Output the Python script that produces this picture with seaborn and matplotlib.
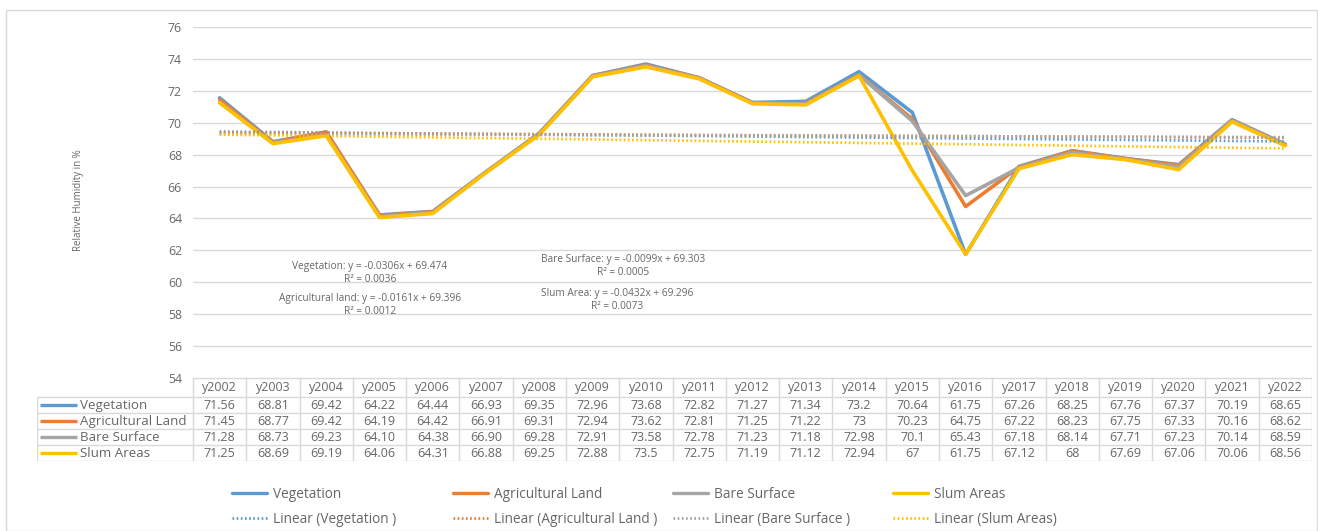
import numpy as np
import pandas as pd
import matplotlib
matplotlib.use("Agg")
import matplotlib.pyplot as plt
from matplotlib.lines import Line2D
from matplotlib.patches import Rectangle
import seaborn as sns

# ---------------- data ----------------
year_labels = ["y2002", "y2003", "y2004", "y2005", "y2006", "y2007", "y2008", "y2009",
               "y2010", "y2011", "y2012", "y2013", "y2014", "y2015", "y2016", "y2017",
               "y2018", "y2019", "y2020", "y2021", "y2022"]
series_names = ["Vegetation", "Agricultural Land", "Bare Surface", "Slum Areas"]
vegetation_txt = ["71.56", "68.81", "69.42", "64.22", "64.44", "66.93", "69.35", "72.96",
                  "73.68", "72.82", "71.27", "71.34", "73.2", "70.64", "61.75", "67.26",
                  "68.25", "67.76", "67.37", "70.19", "68.65"]
agricultural_txt = ["71.45", "68.77", "69.42", "64.19", "64.42", "66.91", "69.31", "72.94",
                    "73.62", "72.81", "71.25", "71.22", "73", "70.23", "64.75", "67.22",
                    "68.23", "67.75", "67.33", "70.16", "68.62"]
bare_txt = ["71.28", "68.73", "69.23", "64.10", "64.38", "66.90", "69.28", "72.91",
            "73.58", "72.78", "71.23", "71.18", "72.98", "70.1", "65.43", "67.18",
            "68.14", "67.71", "67.23", "70.14", "68.59"]
slum_txt = ["71.25", "68.69", "69.19", "64.06", "64.31", "66.88", "69.25", "72.88",
            "73.5", "72.75", "71.19", "71.12", "72.94", "67", "61.75", "67.12",
            "68", "67.69", "67.06", "70.06", "68.56"]
equations = [
    "Vegetation: y = -0.0306x + 69.474\nR² = 0.0036",
    "Agricultural land: y = -0.0161x + 69.396\nR² = 0.0012",
    "Bare Surface: y = -0.0099x + 69.303\nR² = 0.0005",
    "Slum Area: y = -0.0432x + 69.296\nR² = 0.0073",
]
trend_labels = ["Linear (Vegetation )", "Linear (Agricultural Land )",
                "Linear (Bare Surface )", "Linear (Slum Areas)"]

texts = [vegetation_txt, agricultural_txt, bare_txt, slum_txt]
colors = ["#5B9BD5", "#ED7D31", "#A5A5A5", "#FFC000"]
txt_color = "#666666"
grid_color = "#D9D9D9"

rows = []
for name, tx in zip(series_names, texts):
    for i, (yl, v) in enumerate(zip(year_labels, tx)):
        rows.append({"pos": i, "year": yl, "series": name, "value": float(v)})
df = pd.DataFrame(rows)

# ---------------- figure ----------------
sns.set_theme(style="white")
plt.rcParams["font.family"] = ["Open Sans", "DejaVu Sans"]

W, H = 1318, 531
fig = plt.figure(figsize=(W / 100, H / 100), dpi=100)
fig.patch.set_facecolor("white")

def fx(px):
    return px / W

def fy(py):
    return 1 - py / H

# outer frame
fig.patches.append(Rectangle((fx(6), 0.0), fx(1317) - fx(6), fy(10) - 0.0005,
                             transform=fig.transFigure, fill=False,
                             edgecolor=grid_color, linewidth=1.0))

ax_l, ax_r, ax_t, ax_b = 193, 1312, 27, 378
ax = fig.add_axes([fx(ax_l), fy(ax_b), fx(ax_r) - fx(ax_l), fy(ax_t) - fy(ax_b)])

sns.lineplot(data=df, x="pos", y="value", hue="series", hue_order=series_names,
             palette=colors, linewidth=2.6, ax=ax, legend=False, zorder=3)

n = len(year_labels)
xs = np.arange(n)
for name, tx, c in zip(series_names, texts, colors):
    vals = np.array([float(v) for v in tx])
    k, b = np.polyfit(np.arange(1, n + 1), vals, 1)
    ax.plot(xs, k * np.arange(1, n + 1) + b, color=c, linewidth=2.0,
            linestyle=(0, (0.6, 0.9)), zorder=4)

ax.set_xlim(-0.5, n - 0.5)
ax.set_ylim(54, 76)
ax.set_yticks(np.arange(54, 77, 2))
ax.set_xticks([])
ax.set_xlabel("")
ax.set_ylabel("")
ax.yaxis.grid(True, color=grid_color, linewidth=1.0)
ax.tick_params(axis="y", length=0, pad=8, labelsize=8.8, labelcolor=txt_color)
for s in ax.spines.values():
    s.set_visible(False)

# equation annotations
eq_pos = [(2.82, 60.6), (2.82, 58.55), (7.57, 61.05), (7.46, 58.9)]
for (px_, py_), t in zip(eq_pos, equations):
    ax.text(px_, py_, t, ha="center", va="center", fontsize=7.3,
            color=txt_color, multialignment="center", linespacing=1.25, zorder=5)

fig.text(fx(78), fy(200), "Relative Humidity in %", rotation=90, ha="center",
         va="center", fontsize=7, color=txt_color)

# ---------------- data table ----------------
tab_l, tab_t, tab_b = 37, 378, 461
unit = (ax_r - ax_l) / n
x_left = -0.5 - (ax_l - tab_l) / unit
tax = fig.add_axes([fx(tab_l), fy(tab_b), fx(ax_r) - fx(tab_l), fy(tab_t) - fy(tab_b)])
tax.set_xlim(x_left, n - 0.5)
bounds = [0, 19, 35, 51, 67, 83]
tax.set_ylim(bounds[-1], 0)
tax.axis("off")
lc = grid_color
# horizontal lines
tax.plot([-0.5, n - 0.5], [0, 0], color=lc, lw=1)
for yb in bounds[1:]:
    tax.plot([x_left, n - 0.5], [yb, yb], color=lc, lw=1)
# vertical lines
for xb in np.arange(n + 1) - 0.5:
    tax.plot([xb, xb], [0, bounds[-1]], color=lc, lw=1)
tax.plot([x_left, x_left], [bounds[1], bounds[-1]], color=lc, lw=1)

fs_tab = 9.0
for i, yl in enumerate(year_labels):
    tax.text(i, (bounds[0] + bounds[1]) / 2 + 0.5, yl, ha="center", va="center",
             fontsize=fs_tab, color=txt_color)
key_w = (77 - 40) / unit
for r, (name, tx, c) in enumerate(zip(series_names, texts, colors)):
    yc = (bounds[r + 1] + bounds[r + 2]) / 2
    k0 = x_left + (40 - tab_l) / unit
    tax.plot([k0, k0 + key_w], [yc, yc], color=c, lw=2.4, solid_capstyle="butt")
    tax.text(x_left + (80 - tab_l) / unit, yc + 0.5, name, ha="left", va="center",
             fontsize=fs_tab + 0.6, color=txt_color)
    for i, v in enumerate(tx):
        tax.text(i, yc + 0.5, v, ha="center", va="center", fontsize=fs_tab,
                 color=txt_color)

# ---------------- legend ----------------
leg_x = [232, 453, 673, 893]
for lx, name, tl, c in zip(leg_x, series_names, trend_labels, colors):
    handles = [Line2D([0], [0], color=c, lw=2.4),
               Line2D([0], [0], color=c, lw=2.0, linestyle=(0, (0.6, 0.9)))]
    fig.legend(handles, [name, tl], loc="upper left",
               bbox_to_anchor=(fx(lx), fy(487)), frameon=False, fontsize=9.8,
               handlelength=2.6, handletextpad=0.4, labelspacing=0.75,
               borderpad=0, borderaxespad=0, labelcolor=txt_color)

fig.savefig("out.png", dpi=100, facecolor="white")
